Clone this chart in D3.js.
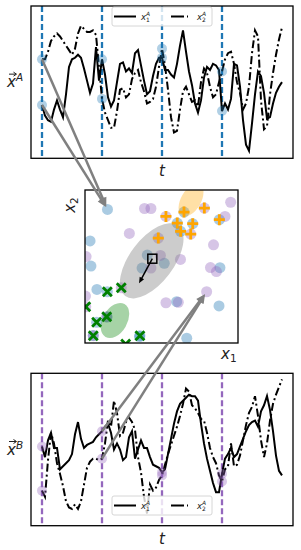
<!doctype html>
<head>
  <meta charset="utf-8">
  <script src="https://cdnjs.cloudflare.com/ajax/libs/d3/7.8.2/d3.min.js"></script>
</head>
<style>
  body { margin: 0; background: white; }
  svg { display: block; font-family: "DejaVu Sans", sans-serif; }
</style>
<body>
<div id="chart"></div>
<script>
// time series (sampled every 2.5 time units, 0..200)
const topX1 = [35,28,25,24,32,38,32,27,42,60, 65,66,68,66,59,51,43,49,73,51, 65,55,40,34,38,50,62,63,57,59,
  56,69,71,61,51,42,44,54,62,66, 66,58,58,55,53,62,74,84,70,57, 48,36,30,38,53,60,58,62,61,58,
  31,36,32,39,62,61,47,25,9,5, 23,42,57,54,43,26,27,36,43,47, 50];
const topX2 = [65,65,70,77,80,82,80,77,74,71, 68,72,82,87,85,83,83,84,81,60, 39,30,25,20,20,31,45,46,40,42,
  52,56,58,50,44,36,37,39,47,60, 72,61,45,27,17,18,32,44,47,42, 37,38,34,50,59,56,47,40,42,50,
  57,65,69,70,62,50,43,32,36,47, 69,84,80,38,19,21,42,56,68,78, 86];
const botX1 = [52,45,56,61,51,51,37,39,41,43, 47,60,68,57,51,53,54,55,58,60, 62,65,67,61,50,54,50,43,45,58,
  62,44,50,56,51,51,45,40,39,38, 35,37,47,57,67,75,80,82,84,86, 85,85,82,67,54,44,36,28,22,22,
  34,44,47,51,45,47,52,57,62,66, 68,69,65,75,79,85,76,62,46,36, 33];
const botX2 = [23,19,43,61,54,41,34,26,16,12, 11,14,11,16,27,38,42,44,44,43, 44,54,69,65,82,74,59,61,68,71,
  68,63,45,35,19,8,27,23,25,30, 33,40,47,53,59,65,72,80,90,88, 79,77,74,70,69,61,51,45,41,33,
  29,37,39,54,39,40,46,56,66,74, 78,85,72,56,45,54,69,80,86,91, 96];
const tStep = 2.5;
const windowTimes = [0, 50, 100, 150];

// latent space points (x1, x2)
const pointsA = [[14.7,87.3],[3.3,66.7],[3.9,50.3],[7.8,35.0],[40.7,57.5],[37.3,49.0],[51.8,52.1],[59.9,27.0],
  [88.2,49.2],[87.6,24.2],[66.5,3.1],[14.4,17.0],[5.4,4.9],[35.6,4.2],[7.6,13.5],
  [64.7,85.6],[60.3,78.4],[70.4,78.0],[87.8,80.6],[62.5,73.0],[14.6,33.5],[35.9,4.8]];
const pointsB = [[38.9,87.9],[43.1,87.9],[29.0,71.6],[49.3,57.2],[43.1,49.0],[62.4,54.6],[84.0,64.2],[82.0,49.3],
  [85.9,46.7],[95.2,92.0],[91.5,82.7],[52.9,26.3],[61.0,26.6],[79.5,33.5],[0.7,56.5],[0.3,30.7],
  [52.9,82.7],[78.0,88.2],[69.1,71.2],[47.9,68.6],[23.7,36.1],[0.5,23.7],[14.2,17.2],[5.4,4.8]];
const classPlus = [[52.9,82.7],[64.7,85.6],[78.0,88.2],[60.3,78.4],[70.4,78.0],[87.8,80.6],[62.5,73.0],[69.1,71.2],[47.9,68.6]];
const classCross = [[14.6,33.5],[23.7,36.1],[0.5,23.7],[7.6,13.5],[14.2,17.2],[5.4,4.8],[35.9,4.8],[26.6,-0.7]];
// gaussians: [cx, cy, semi-major, semi-minor, angle deg]
const gaussGray = [43.6, 53.7, 28.8, 14.4, 53];
const gaussOrange = [69.3, 93.5, 11.8, 6.5, 60];
const gaussGreen = [19.6, 14.7, 12.4, 8.0, 60];
const query = [44.0, 55.1];
const queryStep = [35.3, 39.0];

const blue = '#1f77b4', purple = '#9467bd';

const svg = d3.select('#chart').append('svg').attr('width', 301).attr('height', 550);
const defs = svg.append('defs');

const boxTop = {x0: 31, x1: 293, y0: 6, y1: 158.3};
const boxMid = {x0: 85, x1: 238, y0: 190, y1: 343};
const boxBot = {x0: 31, x1: 293, y0: 373.3, y1: 525.7};

const xT = d3.scaleLinear().domain([0, 200]).range([42, 282]);

function clipFor(id, b) {
  defs.append('clipPath').attr('id', id).append('rect')
    .attr('x', b.x0).attr('y', b.y0).attr('width', b.x1 - b.x0).attr('height', b.y1 - b.y0);
}

function mathLabel(g, x, y, size, sub, sup) {
  const t = g.append('text').attr('x', x).attr('y', y).attr('font-size', size).attr('fill', '#222');
  t.append('tspan').attr('font-style', 'italic').text('x');
  const small = size * 0.7;
  t.append('tspan').attr('font-size', small).attr('dy', size * 0.25).text(sub);
  t.append('tspan').attr('font-size', small).attr('font-style', 'italic')
    .attr('dx', -small * 0.62).attr('dy', -size * 0.7).text(sup);
  return t;
}

function drawTimePanel(b, s1, s2, color, letter, clipId, legendY) {
  clipFor(clipId, b);
  const y = d3.scaleLinear().domain([0, 100]).range([b.y1, b.y0]);
  const g = svg.append('g');
  const gc = g.append('g').attr('clip-path', `url(#${clipId})`);

  gc.selectAll('.win').data(windowTimes).enter().append('line')
    .attr('x1', d => xT(d)).attr('x2', d => xT(d))
    .attr('y1', b.y0).attr('y2', b.y1)
    .attr('stroke', color).attr('stroke-width', 2.3).attr('stroke-dasharray', '6,3');

  const line = d3.line().x((d, i) => xT(i * tStep)).y(d => y(d));
  gc.append('path').attr('d', line(s2)).attr('fill', 'none').attr('stroke', '#000')
    .attr('stroke-width', 2).attr('stroke-dasharray', '8,3,2,3');
  gc.append('path').attr('d', line(s1)).attr('fill', 'none').attr('stroke', '#000')
    .attr('stroke-width', 2);

  const dots = [];
  windowTimes.forEach(t => {
    const i = Math.round(t / tStep);
    dots.push([t, s1[i]], [t, s2[i]]);
  });
  gc.selectAll('.dot').data(dots).enter().append('circle')
    .attr('cx', d => xT(d[0])).attr('cy', d => y(d[1])).attr('r', 5)
    .attr('fill', color).attr('fill-opacity', 0.35);

  g.append('rect').attr('x', b.x0).attr('y', b.y0).attr('width', b.x1 - b.x0).attr('height', b.y1 - b.y0)
    .attr('fill', 'none').attr('stroke', '#000').attr('stroke-width', 1.3);

  // legend
  const lg = g.append('g');
  lg.append('rect').attr('x', 112).attr('y', legendY).attr('width', 100).attr('height', 19).attr('rx', 2)
    .attr('fill', '#fff').attr('fill-opacity', 0.8).attr('stroke', '#ccc').attr('stroke-width', 0.8);
  const ly = legendY + 9.5;
  lg.append('line').attr('x1', 114).attr('x2', 136).attr('y1', ly).attr('y2', ly)
    .attr('stroke', '#000').attr('stroke-width', 2);
  lg.append('line').attr('x1', 171).attr('x2', 188).attr('y1', ly).attr('y2', ly)
    .attr('stroke', '#000').attr('stroke-width', 2).attr('stroke-dasharray', '13,3,2,3');
  mathLabel(lg, 141, ly + 3, 8.5, '1', 'A');
  mathLabel(lg, 197, ly + 3, 8.5, '2', 'A');

  // axis labels
  const cy = (b.y0 + b.y1) / 2;
  const yl = g.append('text').attr('x', 7).attr('y', cy + 5).attr('font-size', 15).attr('fill', '#222');
  yl.append('tspan').attr('font-style', 'italic').text('x');
  yl.append('tspan').attr('font-size', 10.5).attr('font-style', 'italic').attr('dy', -6).text(letter);
  g.append('path').attr('d', `M9,${cy - 8} L16,${cy - 8} M13.5,${cy - 10} L16.5,${cy - 8} L13.5,${cy - 6}`)
    .attr('fill', 'none').attr('stroke', '#222').attr('stroke-width', 1);
  g.append('text').attr('x', 162).attr('y', b.y1 + 18).attr('text-anchor', 'middle')
    .attr('font-size', 15).attr('font-style', 'italic').attr('fill', '#222').text('t');
  return y;
}

const yTop = drawTimePanel(boxTop, topX1, topX2, blue, 'A', 'clipTop', 7);
const yBot = drawTimePanel(boxBot, botX1, botX2, purple, 'B', 'clipBot', 496);

// middle panel
clipFor('clipMid', boxMid);
const xs = d3.scaleLinear().domain([0, 100]).range([boxMid.x0, boxMid.x1]);
const ys = d3.scaleLinear().domain([0, 100]).range([boxMid.y1, boxMid.y0]);
const pxPerUnit = xs(1) - xs(0);
const mid = svg.append('g');
const mc = mid.append('g').attr('clip-path', 'url(#clipMid)');

mc.selectAll('.pa').data(pointsA).enter().append('circle')
  .attr('cx', d => xs(d[0])).attr('cy', d => ys(d[1])).attr('r', 5.5)
  .attr('fill', blue).attr('fill-opacity', 0.38);
mc.selectAll('.pb').data(pointsB).enter().append('circle')
  .attr('cx', d => xs(d[0])).attr('cy', d => ys(d[1])).attr('r', 5.5)
  .attr('fill', purple).attr('fill-opacity', 0.38);

[[gaussGray, '#808080', 0.4], [gaussOrange, 'orange', 0.35], [gaussGreen, 'green', 0.35]].forEach(([gs, c, a]) => {
  mc.append('ellipse')
    .attr('transform', `translate(${xs(gs[0])},${ys(gs[1])}) rotate(${-gs[4]})`)
    .attr('rx', gs[2] * pxPerUnit).attr('ry', gs[3] * pxPerUnit)
    .attr('fill', c).attr('fill-opacity', a);
});

mc.selectAll('.plus').data(classPlus).enter().append('path')
  .attr('d', d => { const x = xs(d[0]), y = ys(d[1]); return `M${x - 5.5},${y} H${x + 5.5} M${x},${y - 5.5} V${y + 5.5}`; })
  .attr('stroke', 'orange').attr('stroke-width', 2.8);
mc.selectAll('.cross').data(classCross).enter().append('path')
  .attr('d', d => { const x = xs(d[0]), y = ys(d[1]); return `M${x - 4.5},${y - 4.5} L${x + 4.5},${y + 4.5} M${x - 4.5},${y + 4.5} L${x + 4.5},${y - 4.5}`; })
  .attr('stroke', 'green').attr('stroke-width', 2.8);

function arrow(g, x0, y0, x1, y1, color, width, headL, headW, shrink) {
  const dx = x1 - x0, dy = y1 - y0, len = Math.hypot(dx, dy);
  const ux = dx / len, uy = dy / len;
  const tx = x1 - ux * shrink, ty = y1 - uy * shrink;
  const bx = tx - ux * headL, by = ty - uy * headL;
  g.append('line').attr('x1', x0).attr('y1', y0).attr('x2', bx + ux).attr('y2', by + uy)
    .attr('stroke', color).attr('stroke-width', width);
  g.append('path')
    .attr('d', `M${tx},${ty} L${bx - uy * headW / 2},${by + ux * headW / 2} L${bx + uy * headW / 2},${by - ux * headW / 2} Z`)
    .attr('fill', color);
}

// query point and its step
arrow(mid, xs(query[0]), ys(query[1]), xs(queryStep[0]), ys(queryStep[1]), '#000', 1.5, 6, 5, 0);
mid.append('rect').attr('x', xs(query[0]) - 4.5).attr('y', ys(query[1]) - 4.5).attr('width', 9).attr('height', 9)
  .attr('fill', 'none').attr('stroke', '#000').attr('stroke-width', 1.5);

mid.append('rect').attr('x', boxMid.x0).attr('y', boxMid.y0).attr('width', boxMid.x1 - boxMid.x0)
  .attr('height', boxMid.y1 - boxMid.y0).attr('fill', 'none').attr('stroke', '#000').attr('stroke-width', 1.3);

const x2l = mid.append('text').attr('transform', 'translate(75,205) rotate(-90)').attr('text-anchor', 'middle')
  .attr('font-size', 15).attr('fill', '#222');
x2l.append('tspan').attr('font-style', 'italic').text('x');
x2l.append('tspan').attr('font-size', 10.5).attr('dy', 3).text('2');
const x1l = mid.append('text').attr('x', 221).attr('y', 359).attr('font-size', 15).attr('fill', '#222');
x1l.append('tspan').attr('font-style', 'italic').text('x');
x1l.append('tspan').attr('font-size', 10.5).attr('dy', 3).text('1');

// mapping arrows from windows to latent points
const arrows = svg.append('g');
const iTop = 0, iBot = Math.round(50 / tStep);
[topX1[iTop], topX2[iTop]].forEach(v => {
  arrow(arrows, xT(0), yTop(v), xs(pointsA[0][0]), ys(pointsA[0][1]), '#808080', 2.5, 9, 8, 3);
});
[botX1[iBot], botX2[iBot]].forEach(v => {
  arrow(arrows, xT(50), yBot(v), xs(pointsB[13][0]), ys(pointsB[13][1]), '#808080', 2.5, 9, 8, 3);
});
</script>
</body>
